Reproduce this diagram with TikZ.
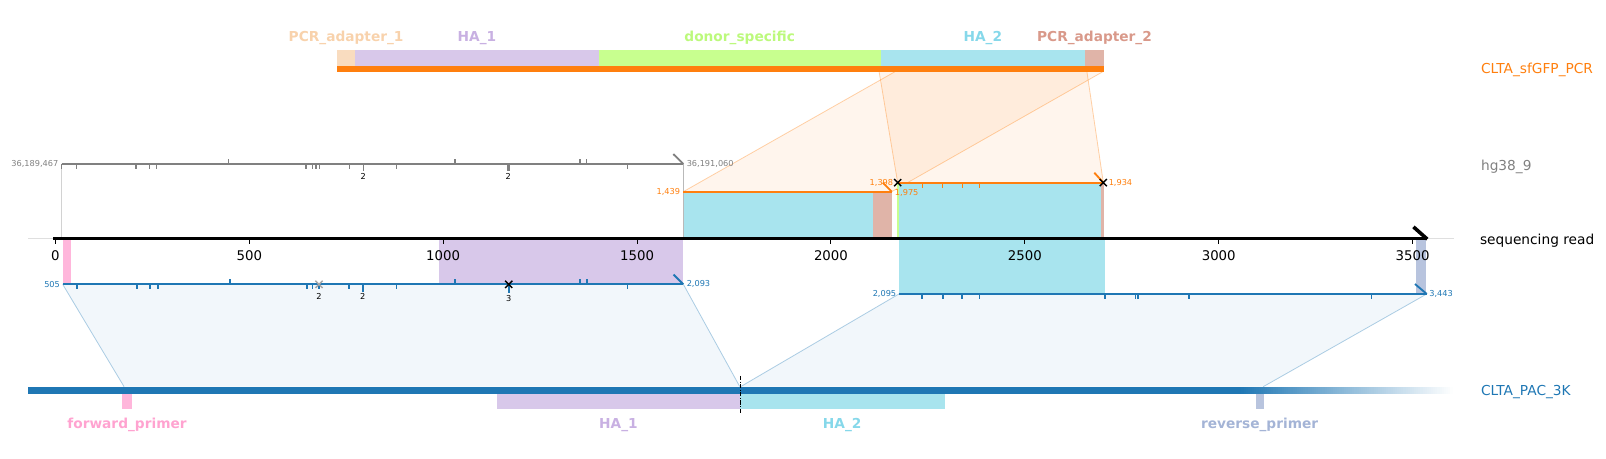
\documentclass[tikz,border=0pt]{standalone}
\usepackage{fontspec}
\setmainfont{DejaVu Sans}
\definecolor{tabblue}{HTML}{1F77B4}
\definecolor{taborange}{HTML}{FF7F0E}
\definecolor{hggray}{HTML}{808080}
\definecolor{cpcra}{HTML}{F9DCBF}
\definecolor{lpcra}{HTML}{F8D2AC}
\definecolor{cha1}{HTML}{D8C8EA}
\definecolor{lha1}{HTML}{C8B0E2}
\definecolor{cdonor}{HTML}{C8FF8F}
\definecolor{ldonor}{HTML}{BCF97C}
\definecolor{cha2}{HTML}{A8E4EE}
\definecolor{lha2}{HTML}{86D8EA}
\definecolor{cpcrb}{HTML}{E0B4A8}
\definecolor{lpcrb}{HTML}{D9998A}
\definecolor{cfwd}{HTML}{FFB6DB}
\definecolor{lfwd}{HTML}{FFA3D0}
\definecolor{crev}{HTML}{B8C4DE}
\definecolor{lrev}{HTML}{A4B4D6}
\begin{document}
\begin{tikzpicture}[x=1pt,y=-1pt,
  every node/.style={inner sep=0pt,outer sep=0pt},
  feat/.style={font=\bfseries\fontsize{13.4}{15}\selectfont},
  track/.style={font=\fontsize{13.4}{15}\selectfont,anchor=west},
  axlbl/.style={font=\fontsize{13}{15}\selectfont},
  num/.style={font=\fontsize{8}{9}\selectfont},
  cnt/.style={font=\fontsize{8}{9}\selectfont,text=black},
  tk/.style={line width=1.5pt},
  aln/.style={line width=1.8pt},
  endmark/.style={line width=1.8pt},
  xmark/.style={line width=1.4pt},
  ofill/.style={fill=taborange,fill opacity=0.075},
  oedge/.style={draw=taborange,draw opacity=0.35,line width=0.8pt},
  bfill/.style={fill=tabblue,fill opacity=0.06},
  bedge/.style={draw=tabblue,draw opacity=0.35,line width=0.8pt}]
\useasboundingbox (0,0) rectangle (1568,448);

% baseline of read axis
\draw[gray!25,line width=0.8pt] (27.7,232.7) -- (1419.6,232.7);

% orange connection polygons
\coordinate (oa1) at (873.8,70); \coordinate (oa2) at (1076.7,70);
\coordinate (oa3) at (870.6,187.1); \coordinate (oa4) at (667.2,187.1);
\coordinate (ob1) at (858.3,70); \coordinate (ob2) at (1061.2,70);
\coordinate (ob3) at (1077.2,178.3); \coordinate (ob4) at (876.4,178.3);
\fill[ofill] (oa1) -- (oa2) -- (oa3) -- (oa4) -- cycle;
\fill[ofill] (ob1) -- (ob2) -- (ob3) -- (ob4) -- cycle;
\draw[oedge] (oa1) -- (oa4) (oa2) -- (oa3);
\draw[oedge] (ob1) -- (ob4) (ob2) -- (ob3);

% blue connection polygons
\coordinate (ba1) at (61.2,277.6); \coordinate (ba2) at (667.2,277.6);
\coordinate (ba3) at (722.3,377.5); \coordinate (ba4) at (121.1,377.5);
\coordinate (bb1) at (877.7,287); \coordinate (bb2) at (1393,287);
\coordinate (bb3) at (1233.4,377.5); \coordinate (bb4) at (723.1,377.5);
\fill[bfill] (ba1) -- (ba2) -- (ba3) -- (ba4) -- cycle;
\fill[bfill] (bb1) -- (bb2) -- (bb3) -- (bb4) -- cycle;
\draw[bedge] (ba1) -- (ba4) (ba2) -- (ba3);
\draw[bedge] (bb1) -- (bb4) (bb2) -- (bb3);

% blocks above axis
\fill[cha2] (667.2,187.1) rectangle (852.6,232.7);
\fill[cpcrb] (852.6,187.1) rectangle (870.6,232.7);
\fill[cdonor] (875.3,178.3) rectangle (878,232.7);
\fill[cha2] (878,178.3) rectangle (1075.4,232.7);
\fill[cpcrb] (1075.4,178.3) rectangle (1078,232.7);
% blocks below axis
\fill[cfwd] (61.8,234) rectangle (69.3,277.6);
\fill[cha1] (428.6,234) rectangle (667.2,277.6);
\fill[cha2] (877.7,234) rectangle (1078.8,287);
\fill[crev] (1382.5,234) rectangle (1392.3,287);

% light verticals
\draw[gray!35,line width=0.8pt] (60.2,160.1) -- (60.2,232.7);
\draw[gray!55,line width=0.8pt] (667.2,160.1) -- (667.2,232.7);

% hg38 alignment
\draw[hggray,aln] (60.2,160.1) -- (667.2,160.1);
\foreach \x in {60.2,74.9,132.8,145.8,153,298.8,305,308.5,311.8,341,387.3,612.8}
  \draw[hggray,tk] (\x,160.1) -- ++(0,5);
\foreach \x in {223.3,444.2,566.3,572.8}
  \draw[hggray,tk] (\x,160.1) -- ++(0,-5);
\draw[hggray,tk] (354.7,160.1) -- ++(0,7);
\draw[hggray,line width=2.6pt] (496.3,160.1) -- ++(0,7);
\draw[hggray,endmark] (657.4,150.4) -- (667.2,160.1);
\node[num,text=hggray,anchor=east] (hgs) at (57,160.1) {36,189,467};
\node[num,text=hggray,anchor=west] (hge) at (670.5,160.1) {36,191,060};
\node[cnt] (hgc1) at (354.7,172.5) {2};
\node[cnt] (hgc2) at (496.3,172.5) {2};

% orange alignments
\draw[taborange,aln] (667.2,187.1) -- (870.6,187.1);
\draw[taborange,endmark] (861.8,178.3) -- (870.6,187.1);
\draw[taborange,aln] (876.4,178.3) -- (1077.2,178.3);
\foreach \x in {900.8,920.4,939.6,956.2}
  \draw[taborange,tk] (\x,178.3) -- ++(0,5);
\draw[taborange,endmark] (1068.4,168.6) -- (1077.2,178.3);
\node[num,text=taborange,anchor=east] (o1s) at (664,187.1) {1,439};
\node[num,text=taborange,anchor=west] (o1e) at (873.8,188.5) {1,975};
\node[num,text=taborange,anchor=east] (o2s) at (872,178.3) {1,398};
\node[num,text=taborange,anchor=west] (o2e) at (1082.5,178.3) {1,934};
\foreach \p in {(876.4,178.3),(1077.2,178.3)}
  \draw[black,xmark] \p ++(-3.5,-3.5) -- ++(7,7) \p ++(-3.5,3.5) -- ++(7,-7);

% blue alignment 1
\draw[tabblue,aln] (61.2,277.6) -- (667.2,277.6);
\foreach \x in {75.3,134,146.3,154.2,299.7,304.9,311.5,340.6,386.9,612.7}
  \draw[tabblue,tk] (\x,277.6) -- ++(0,5);
\foreach \x in {224.8,444.4,566.5,573}
  \draw[tabblue,tk] (\x,277.6) -- ++(0,-5);
\draw[tabblue,tk] (354.2,277.6) -- ++(0,7);
\draw[tabblue,tk] (496.7,277.6) -- ++(0,8);
\draw[tabblue,endmark] (657.6,268) -- (667.2,277.6);
\draw[gray!70,xmark] (311.5,277.6) ++(-3.5,-3.5) -- ++(7,7) ++(0,-7) -- ++(-7,7);
\draw[black,xmark] (496.7,277.6) ++(-3.5,-3.5) -- ++(7,7) ++(0,-7) -- ++(-7,7);
\node[num,text=tabblue,anchor=east] (b1s) at (58.5,277.6) {505};
\node[num,text=tabblue,anchor=west] (b1e) at (670.5,277.6) {2,093};
\node[cnt] (bc1) at (311.5,289.5) {2};
\node[cnt] (bc2) at (354.2,289.5) {2};
\node[cnt] (bc3) at (496.7,291.3) {3};

% blue alignment 2
\draw[tabblue,aln] (877.7,287) -- (1393,287);
\foreach \x in {900.3,920.6,939.4,956.4,1078.9,1108.5,1111,1160.8,1339}
  \draw[tabblue,tk] (\x,287) -- ++(0,5);
\draw[tabblue,endmark] (1381.5,277.3) -- (1393,287);
\node[num,text=tabblue,anchor=east] (b2s) at (875,287) {2,095};
\node[num,text=tabblue,anchor=west] (b2e) at (1395.5,287) {3,443};

% read axis
\draw[black,line width=3.5pt] (52,232.7) -- (1393,232.7);
\draw[black,line width=3.5pt] (1380,221.5) -- (1393.5,233.5);
\foreach \v/\x in {0/54.1,500/243.4,1000/432.7,1500/622,2000/811.3,2500/1000.6,3000/1189.9,3500/1379.2}{
  \draw[black,line width=1pt] (\x,232.7) -- ++(0,5.5);
  \node[axlbl] (ax\v) at (\x,250) {\v};
}

% top PCR bar
\fill[cpcra] (329.1,49) rectangle (346.6,64);
\fill[cha1] (346.6,49) rectangle (584.7,64);
\fill[cdonor] (584.7,49) rectangle (859.7,64);
\fill[cha2] (859.7,49) rectangle (1059.5,64);
\fill[cpcrb] (1059.5,49) rectangle (1077.7,64);
\fill[taborange] (329.1,64) rectangle (1077.7,70);
\node[feat,text=lpcra] (tpa1) at (337.9,37) {PCR\_adapter\_1};
\node[feat,text=lha1] (tha1) at (465.7,37) {HA\_1};
\node[feat,text=ldonor] (tdon) at (722.2,37) {donor\_specific};
\node[feat,text=lha2] (tha2) at (959.6,37) {HA\_2};
\node[feat,text=lpcrb] (tpa2) at (1068.6,37) {PCR\_adapter\_2};

% bottom PAC bar with fading end
\fill[tabblue] (27.4,377.5) rectangle (1211,384.5);
\foreach \i in {0,...,99}{
  \pgfmathsetmacro\xa{1210+\i*2.08}
  \pgfmathtruncatemacro\pc{100-\i}
  \fill[tabblue!\pc!white] (\xa,377.5) rectangle ++(2.3,7);
}
\fill[cfwd] (119.5,384.5) rectangle (128.5,399);
\fill[cha1] (485.2,384.5) rectangle (722.3,399);
\fill[cha2] (722.3,384.5) rectangle (922.2,399);
\fill[crev] (1225.8,384.5) rectangle (1233.7,399);
\draw[black,line width=0.9pt,dash pattern=on 4pt off 1.5pt on 1pt off 1.5pt] (722.5,367) -- (722.5,403);
\node[feat,text=lfwd] (bfwd) at (124,415) {forward\_primer};
\node[feat,text=lha1] (bha1) at (603.8,415) {HA\_1};
\node[feat,text=lha2] (bha2) at (822.3,415) {HA\_2};
\node[feat,text=lrev] (brev) at (1229.8,415) {reverse\_primer};

% track labels
\node[track,text=taborange] (lpcr) at (1446,68) {CLTA\_sfGFP\_PCR};
\node[track,text=hggray] (lhg) at (1446,162.5) {hg38\_9};
\node[track,text=black] (lread) at (1445,235) {sequencing read};
\node[track,text=tabblue] (lpac) at (1446,383) {CLTA\_PAC\_3K};
\end{tikzpicture}
\end{document}
